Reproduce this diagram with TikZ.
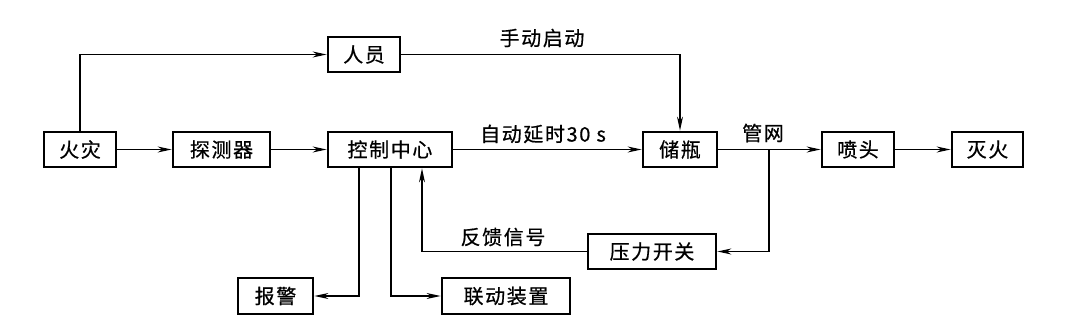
\documentclass[tikz,border=0pt]{standalone}
\usepackage{fontspec}
\newfontfamily\cjk[LetterSpace=8,FakeBold=0.6]{Noto Sans CJK SC}
\usetikzlibrary{arrows.meta}
\begin{document}
\begin{tikzpicture}[x=1pt,y=-1pt,
  box/.style={draw,line width=2.8pt,inner sep=0pt,minimum height=35pt,font=\cjk\fontsize{20}{20}\selectfont},
  conn/.style={line width=1.2pt,-{Stealth[length=14pt,width=6pt]}},
  lbl/.style={inner sep=0pt,font=\cjk\fontsize{20}{20}\selectfont}]
\useasboundingbox (0,0) rectangle (1067,336);
\node[box,minimum width=72pt] (fire) at (80,149.5) {火灾};
\node[box,minimum width=97pt] (det) at (221.5,149.5) {探测器};
\node[box,minimum width=124pt] (ctrl) at (390,149.5) {控制中心};
\node[box,minimum width=72pt] (person) at (364,54.5) {人员};
\node[box,minimum width=74pt] (bottle) at (680,149.5) {储瓶};
\node[box,minimum width=72pt] (nozzle) at (858,149.5) {喷头};
\node[box,minimum width=71pt] (ext) at (987.5,149.5) {灭火};
\node[box,minimum width=128pt] (press) at (652,251.5) {压力开关};
\node[box,minimum width=75pt,minimum height=36pt] (alarm) at (275.5,296) {报警};
\node[box,minimum width=128pt,minimum height=36pt] (link) at (506,296) {联动装置};
\coordinate (br) at (769,149.5);
\node[lbl] (l1) at (542,38) {手动启动};
\node[lbl] (l2) at (543,134) {自动延时30 s};
\node[lbl] (l3) at (763,133) {管网};
\node[lbl] (l4) at (503,237) {反馈信号};
\draw[conn] (fire) -- (det);
\draw[conn] (det) -- (ctrl);
\draw[conn] (ctrl) -- (bottle);
\draw[conn] (bottle) -- (nozzle);
\draw[conn] (nozzle) -- (ext);
\draw[conn] (fire.north) |- (person.west);
\draw[conn] (person.east) -| (bottle.north);
\draw[conn] (br) |- (press.east);
\draw[conn] (press.west) -| ([xshift=32pt]ctrl.south);
\draw[conn] ([xshift=-31pt]ctrl.south) |- (alarm.east);
\draw[conn] ([xshift=1pt]ctrl.south) |- (link.west);
\end{tikzpicture}
\end{document}
